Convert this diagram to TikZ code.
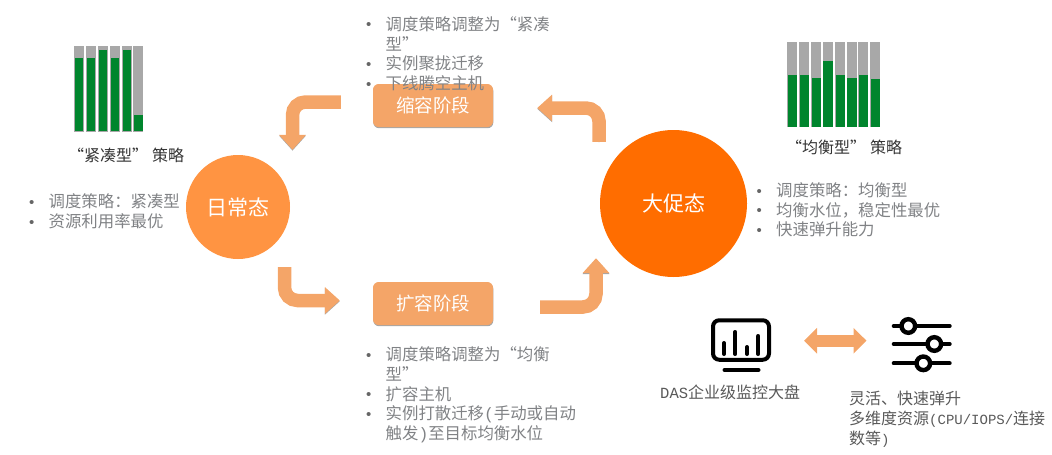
\documentclass[tikz,border=0pt]{standalone}
\usepackage{fontspec}
\setmainfont{Noto Sans CJK SC}
\newfontfamily\latinmono{Liberation Mono}
\newfontfamily\bulletfont{Liberation Sans}
\usetikzlibrary{positioning,arrows.meta,calc,shadows}

\definecolor{dailyorange}{HTML}{FF9442}
\definecolor{promoorange}{HTML}{FF6D00}
\definecolor{softorange}{HTML}{F4A568}
\definecolor{bargreen}{HTML}{00852D}
\definecolor{bargrey}{HTML}{A8A8A8}
\definecolor{listgrey}{HTML}{808285}

\newcommand{\bitem}[1]{\makebox[19.5pt][l]{\raisebox{0.5pt}{\textcolor{black!60}{\bulletfont\fontsize{15}{15}\selectfont •}}}#1}
\newcommand{\bcont}[1]{\hspace*{19.5pt}#1}
\newcommand{\latinpart}[1]{{\latinmono\fontsize{14}{20}\selectfont #1}}

\begin{document}
\begin{tikzpicture}[
        x=1pt, y=-1pt,
        stagecircle/.style={
            circle,
            inner sep=0pt,
            text=white,
            font=\fontsize{21}{24}\selectfont
        },
        stagebox/.style={
            rectangle,
            rounded corners=2mm,
            fill=softorange,
            text=white,
            minimum width=120pt,
            minimum height=43pt,
            inner sep=0pt,
            font=\fontsize{18.5}{22}\selectfont,
            drop shadow={shadow xshift=0.3pt,shadow yshift=-1.2pt,opacity=.35,fill=black}
        },
        bentarrow/.style={
            rounded corners=13pt,
            line width=13.5pt,
            draw=softorange,
            -{Triangle[length=15pt,width=26pt]},
            preaction={draw=black!35, transform canvas={yshift=-0.8pt}}
        },
        bulletlist/.style={
            anchor=west,
            align=left,
            inner sep=0pt,
            text=listgrey,
            font=\fontsize{16.4}{19.7}\selectfont
        },
        caption/.style={
            anchor=west,
            align=left,
            inner sep=0pt,
            text=black!80,
            font=\fontsize{16}{20}\selectfont
        },
        barback/.style={fill=bargrey},
        barfill/.style={fill=bargreen},
        iconline/.style={line width=4pt, line cap=round, draw=black}
    ]
    \useasboundingbox (0,0) rectangle (1052,455);

    % Step 1: the two states and the two phases
    \node[stagecircle, fill=dailyorange, minimum size=104pt] (daily) at (238,207) {日常态};
    \node[stagecircle, fill=promoorange, minimum size=147pt] (promo) at (673.5,203.5) {大促态};
    \node[stagebox] (shrink) at (433,105.5) {缩容阶段};
    \node[stagebox] (expand) at (433,303.5) {扩容阶段};

    % Step 2: bent arrows round the cycle
    \coordinate (shrinkout) at ($(shrink.west)+(-32,-3.5)$);
    \coordinate (dailyin) at ($(daily.north)+(54.5,-5)$);
    \coordinate (promoout) at ($(promo.north)+(-74.5,12)$);
    \coordinate (shrinkin) at ($(shrink.east)+(44,2.5)$);
    \coordinate (dailyout) at ($(daily.south)+(46.5,8)$);
    \coordinate (expandin) at ($(expand.west)+(-33,-3)$);
    \coordinate (expandout) at ($(expand.east)+(47,3.5)$);
    \coordinate (promoin) at ($(promo.south)+(-77.5,-19)$);

    \draw[bentarrow] (shrinkout) -| (dailyin);
    \draw[bentarrow] (promoout) |- (shrinkin);
    \draw[bentarrow] (dailyout) |- (expandin);
    \draw[bentarrow] (expandout) -| (promoin);

    % Step 3: bar charts of the two strategies
    \foreach \barx/\bartop in {74/57.7, 86/57.7, 98/49.7, 110/57.7, 121.7/49.7, 133.4/115}{
        \fill[barback] (\barx,46) rectangle ++(9.8,85.5);
        \fill[barfill] (\barx+1,\bartop) rectangle (\barx+9.3,131);
    }
    \foreach \barx/\bartop in {787.3/75, 799/75, 811/78.3, 822.7/61, 835/75, 846.7/78.3, 858.3/75, 870.3/79}{
        \fill[barback] (\barx,42.3) rectangle ++(10,85);
        \fill[barfill] (\barx+0.5,\bartop) rectangle (\barx+10,127.3);
    }
    \node[caption] (tightlabel) at (68,155) {“紧凑型”\hspace{4pt}策略};
    \node[caption] (balancelabel) at (786,147) {“均衡型”\hspace{4pt}策略};

    % Step 4: bullet lists
    \node[bulletlist] (dailylist) at (29,211.5) {\bitem{调度策略：紧凑型}\\ \bitem{资源利用率最优}};
    \node[bulletlist] (promolist) at (756.5,210) {\bitem{调度策略：均衡型}\\ \bitem{均衡水位，稳定性最优}\\ \bitem{快速弹升能力}};
    \node[bulletlist] (shrinklist) at (366,53.7) {\bitem{调度策略调整为“紧凑}\\ \bcont{型”}\\ \bitem{实例聚拢迁移}\\ \bitem{下线腾空主机}};
    \node[bulletlist] (expandlist) at (366,395) {\bitem{调度策略调整为“均衡}\\ \bcont{型”}\\ \bitem{扩容主机}\\ \bitem{实例打散迁移{\latinmono(}手动或自动}\\ \bcont{触发{\latinmono)}至目标均衡水位}};

    % Step 5: monitor and slider icons
    \node[draw=black, line width=4pt, rounded corners=2.2mm, minimum width=56pt, minimum height=39.5pt, inner sep=0pt] (monitor) at (741,340) {};
    \foreach \barx/\bartop in {724/343, 735.3/332, 747/347, 758.3/336}{
        \draw[iconline] (\barx,\bartop) -- (\barx,354);
    }
    \draw[iconline] (724.5,370) -- (758.5,370);

    \foreach \sliderx/\slidery in {908.3/326, 934.3/344, 923.3/363.3}{
        \draw[iconline] (893.7,\slidery) -- (949.7,\slidery);
        \draw[line width=4.4pt, draw=black, fill=white] (\sliderx,\slidery) circle (6.8pt);
    }
    \node[minimum size=0pt, inner sep=0pt] (sliders) at (922,344) {};

    \coordinate (monitorlink) at ($(monitor.east)+(33,0.7)$);
    \coordinate (sliderlink) at ($(sliders.west)+(-55.3,-3.3)$);
    \draw[line width=12pt, draw=softorange, {Triangle[length=13pt,width=25pt]}-{Triangle[length=13pt,width=25pt]}] (monitorlink) -- (sliderlink);

    \node[caption, text=black!65] (monitorlabel) at (660,392) {{\latinmono\fontsize{15.5}{20}\selectfont DAS}企业级监控大盘};
    \node[caption, text=black!65] (sliderlabel) at (849,419) {灵活、快速弹升\\ 多维度资源\latinpart{(CPU/IOPS/}连接\\ 数等\latinpart{)}};
\end{tikzpicture}
\end{document}
